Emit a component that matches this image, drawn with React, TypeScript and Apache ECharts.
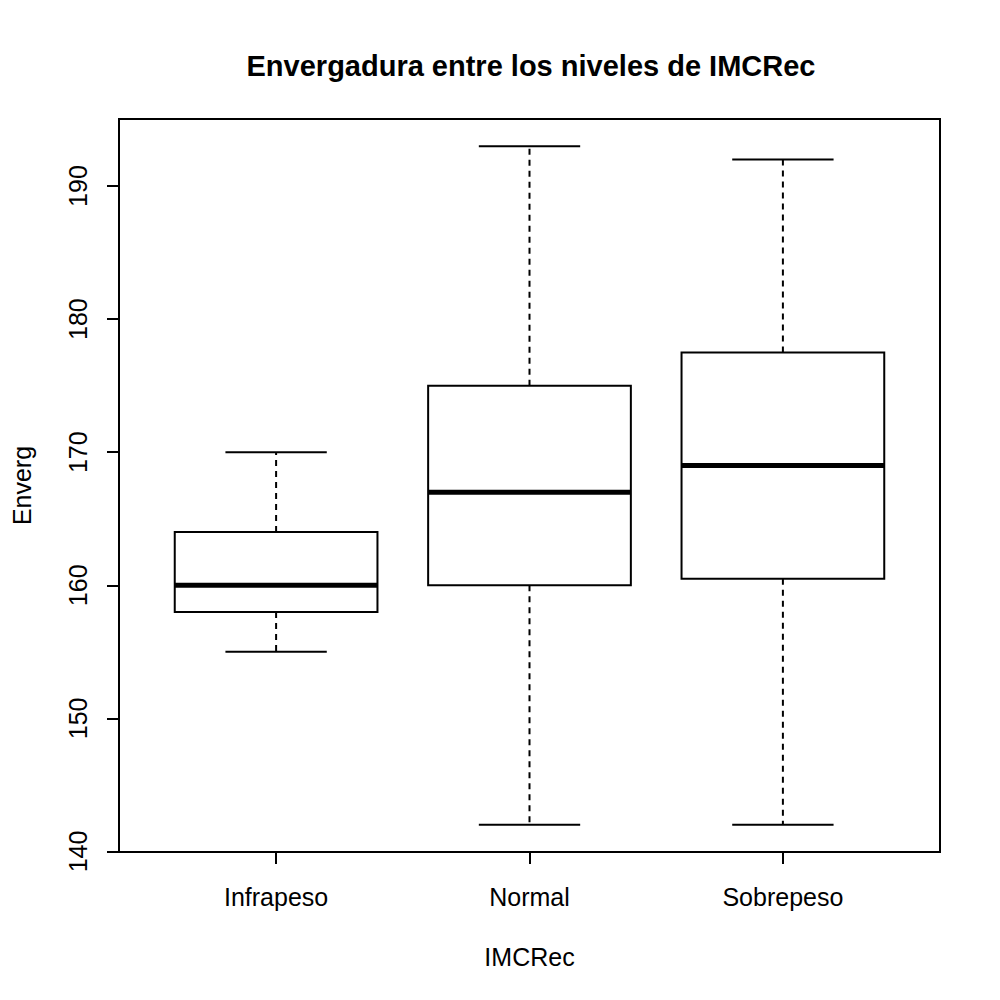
import React, { useEffect, useRef } from "react";
import * as echarts from "echarts";

const categories = ["Infrapeso", "Normal", "Sobrepeso"];
const whiskerLow = [155, 142, 142];
const q1 = [158, 160, 160.5];
const medians = [160, 167, 169];
const q3 = [164, 175, 177.5];
const whiskerHigh = [170, 193, 192];
const yTicks = [140, 150, 160, 170, 180, 190];

const FONT = "'Liberation Sans', Arial, sans-serif";

const App = () => {
  const chartRef = useRef<HTMLDivElement>(null);

  useEffect(() => {
    if (!chartRef.current) return;
    const chart = echarts.init(chartRef.current, null, { renderer: "svg" });

    const data = categories.map((c, i) => [
      i + 1,
      whiskerLow[i],
      q1[i],
      medians[i],
      q3[i],
      whiskerHigh[i],
    ]);

    // R-style box: dashed whiskers, short caps, thick median
    const renderItem = (params: any, api: any) => {
      const x = api.value(0);
      const lo = api.coord([x, api.value(1)]);
      const b1 = api.coord([x, api.value(2)]);
      const med = api.coord([x, api.value(3)]);
      const b3 = api.coord([x, api.value(4)]);
      const hi = api.coord([x, api.value(5)]);
      const left = api.coord([x - 0.4, 0])[0];
      const right = api.coord([x + 0.4, 0])[0];
      const capL = api.coord([x - 0.2, 0])[0];
      const capR = api.coord([x + 0.2, 0])[0];
      const cx = lo[0];
      const solid = { stroke: "#000", lineWidth: 2, fill: "none" };
      const dashed = { stroke: "#000", lineWidth: 2, lineDash: [6, 5] };
      return {
        type: "group",
        children: [
          { type: "line", shape: { x1: cx, y1: b1[1], x2: cx, y2: lo[1] }, style: dashed },
          { type: "line", shape: { x1: cx, y1: b3[1], x2: cx, y2: hi[1] }, style: dashed },
          { type: "line", shape: { x1: capL, y1: lo[1], x2: capR, y2: lo[1] }, style: solid },
          { type: "line", shape: { x1: capL, y1: hi[1], x2: capR, y2: hi[1] }, style: solid },
          {
            type: "rect",
            shape: { x: left, y: b3[1], width: right - left, height: b1[1] - b3[1] },
            style: { stroke: "#000", lineWidth: 2, fill: "#fff" },
          },
          { type: "line", shape: { x1: left, y1: med[1], x2: right, y2: med[1] }, style: { stroke: "#000", lineWidth: 5 } },
        ],
      };
    };

    chart.setOption({
      animation: false,
      backgroundColor: "#fff",
      title: {
        text: "Envergadura entre los niveles de IMCRec",
        left: 526,
        top: 46,
        textAlign: "center",
        textStyle: { fontFamily: FONT, fontSize: 29, fontWeight: "bold", color: "#000" },
      },
      grid: {
        left: 119,
        right: 60,
        top: 119,
        bottom: 148,
        show: true,
        borderColor: "#000",
        borderWidth: 2,
        outerBoundsMode: "none",
      },
      xAxis: {
        type: "value",
        min: 0.38,
        max: 3.62,
        name: "IMCRec",
        nameLocation: "middle",
        nameGap: 92,
        nameTextStyle: { fontFamily: FONT, fontSize: 25, color: "#000" },
        splitLine: { show: false },
        axisLine: { show: false },
        axisTick: { show: true, length: 12, customValues: [1, 2, 3], lineStyle: { color: "#000", width: 2 } },
        axisLabel: {
          customValues: [1, 2, 3],
          margin: 32,
          fontFamily: FONT,
          fontSize: 25,
          color: "#000",
          formatter: (v: number) => categories[Math.round(v) - 1] ?? "",
        },
      },
      yAxis: {
        type: "value",
        min: 139.96,
        max: 195.04,
        name: "Enverg",
        nameLocation: "middle",
        nameGap: 85,
        nameRotate: 90,
        nameTextStyle: { fontFamily: FONT, fontSize: 25, color: "#000" },
        splitLine: { show: false },
        axisLine: { show: false },
        axisTick: { show: true, length: 12, customValues: yTicks, lineStyle: { color: "#000", width: 2 } },
        axisLabel: {
          customValues: yTicks,
          rotate: 90,
          margin: 41,
          fontFamily: FONT,
          fontSize: 25,
          color: "#000",
          verticalAlign: "middle",
          align: "center",
        },
      },
      series: [
        {
          type: "custom",
          renderItem,
          data,
          encode: { x: 0, y: [1, 2, 3, 4, 5] },
        },
      ],
    });

    return () => chart.dispose();
  }, []);

  return (
    <div
      ref={chartRef}
      style={{ position: "absolute", left: 0, top: 0, width: "1000px", height: "1000px" }}
    />
  );
};

export default App;
